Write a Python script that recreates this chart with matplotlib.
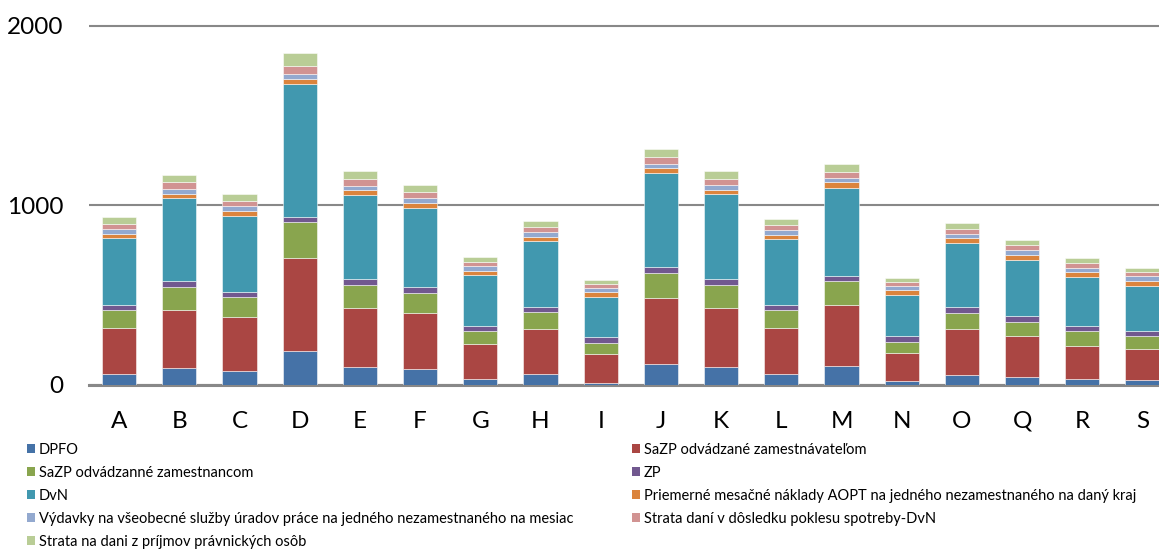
import matplotlib.pyplot as plt
from matplotlib.patches import Patch
import numpy as np

plt.rcParams['font.family'] = ['Lato', 'DejaVu Sans']

# categories (kraje) and stacked series, bottom to top
kraje = ['A', 'B', 'C', 'D', 'E', 'F', 'G', 'H', 'I', 'J', 'K', 'L', 'M', 'N', 'O', 'Q', 'R', 'S']

dpfo = [56, 90, 75, 185, 96, 84, 28, 56, 11, 112, 96, 56, 101, 17, 54, 43, 28, 24]
sazp_zamestnavatel = [260, 327, 299, 521, 331, 313, 198, 253, 161, 369, 331, 260, 345, 161, 253, 225, 189, 173]
sazp_zamestnanec = [101, 128, 116, 198, 127, 116, 75, 97, 62, 143, 127, 97, 131, 60, 94, 80, 79, 71]
zp = [29, 30, 27, 30, 32, 32, 28, 28, 30, 31, 32, 33, 30, 32, 32, 32, 32, 30]
dvn = [369, 464, 425, 744, 470, 442, 283, 364, 225, 525, 474, 363, 488, 230, 354, 317, 271, 253]
aopt = [24, 25, 24, 26, 28, 28, 23, 26, 28, 26, 26, 26, 32, 28, 28, 28, 26, 28]
vydavky = [26, 24, 28, 26, 26, 24, 26, 24, 22, 24, 26, 26, 25, 24, 24, 24, 24, 26]
strata_dvn = [30, 39, 32, 45, 34, 36, 24, 28, 23, 38, 34, 30, 31, 21, 30, 28, 29, 22]
strata_po = [38, 43, 37, 73, 47, 39, 28, 34, 22, 48, 45, 32, 49, 23, 32, 30, 26, 25]

series = [
    ('DPFO', dpfo, '#4572A7'),
    ('SaZP odvádzané zamestnávateľom', sazp_zamestnavatel, '#AA4643'),
    ('SaZP odvádzanné zamestnancom', sazp_zamestnanec, '#89A54E'),
    ('ZP', zp, '#71588F'),
    ('DvN', dvn, '#4198AF'),
    ('Priemerné mesačné náklady AOPT na jedného nezamestnaného na daný kraj', aopt, '#DB843D'),
    ('Výdavky na všeobecné služby úradov práce na jedného nezamestnaného na mesiac', vydavky, '#93A9CF'),
    ('Strata daní v dôsledku poklesu spotreby-DvN', strata_dvn, '#D19392'),
    ('Strata na dani z príjmov právnických osôb', strata_po, '#B9CD96'),
]

W, H = 1159, 549
fig = plt.figure(figsize=(W / 100, H / 100), dpi=100)
ax = fig.add_axes([89 / W, (H - 384.5) / H, 18 * 60.2 / W, 367.5 / H])

x = np.arange(len(kraje))
bottom = np.zeros(len(kraje))
for name, vals, col in series:
    ax.bar(x, vals, width=0.565, bottom=bottom, color=col,
           edgecolor=(1, 1, 1, 0.6), linewidth=0.6, zorder=3)
    bottom += np.array(vals)

ax.set_xlim(-0.5, len(kraje) - 0.5)
ax.set_ylim(0, 2050)
ax.set_yticks([0, 1000, 2000])
ax.set_xticks(x)
ax.set_xticklabels(kraje)
ax.tick_params(axis='both', length=0, labelsize=17.5)
ax.tick_params(axis='y', pad=18.5)
ax.tick_params(axis='x', pad=19)

ax.yaxis.grid(True, color='#888888', linewidth=1.5, zorder=0)
ax.set_axisbelow(True)
for s in ['top', 'right', 'left']:
    ax.spines[s].set_visible(False)
ax.spines['bottom'].set_color('#888888')
ax.spines['bottom'].set_linewidth(2.2)

# legend in two columns, row-major like the original
handles = [Patch(facecolor=c, edgecolor='none', label=n) for n, v, c in series]
left = handles[0::2]
right = handles[1::2]
common = dict(frameon=False, fontsize=10.5, handlelength=0.55, handleheight=0.6,
              handletextpad=0.3, labelspacing=0.62, borderpad=0, borderaxespad=0,
              loc='upper left')
fig.legend(handles=left, bbox_to_anchor=(26.5 / W, 1 - 442.5 / H), **common)
fig.legend(handles=right, bbox_to_anchor=(631.5 / W, 1 - 442.5 / H), **common)

fig.savefig('out.png', dpi=100)
